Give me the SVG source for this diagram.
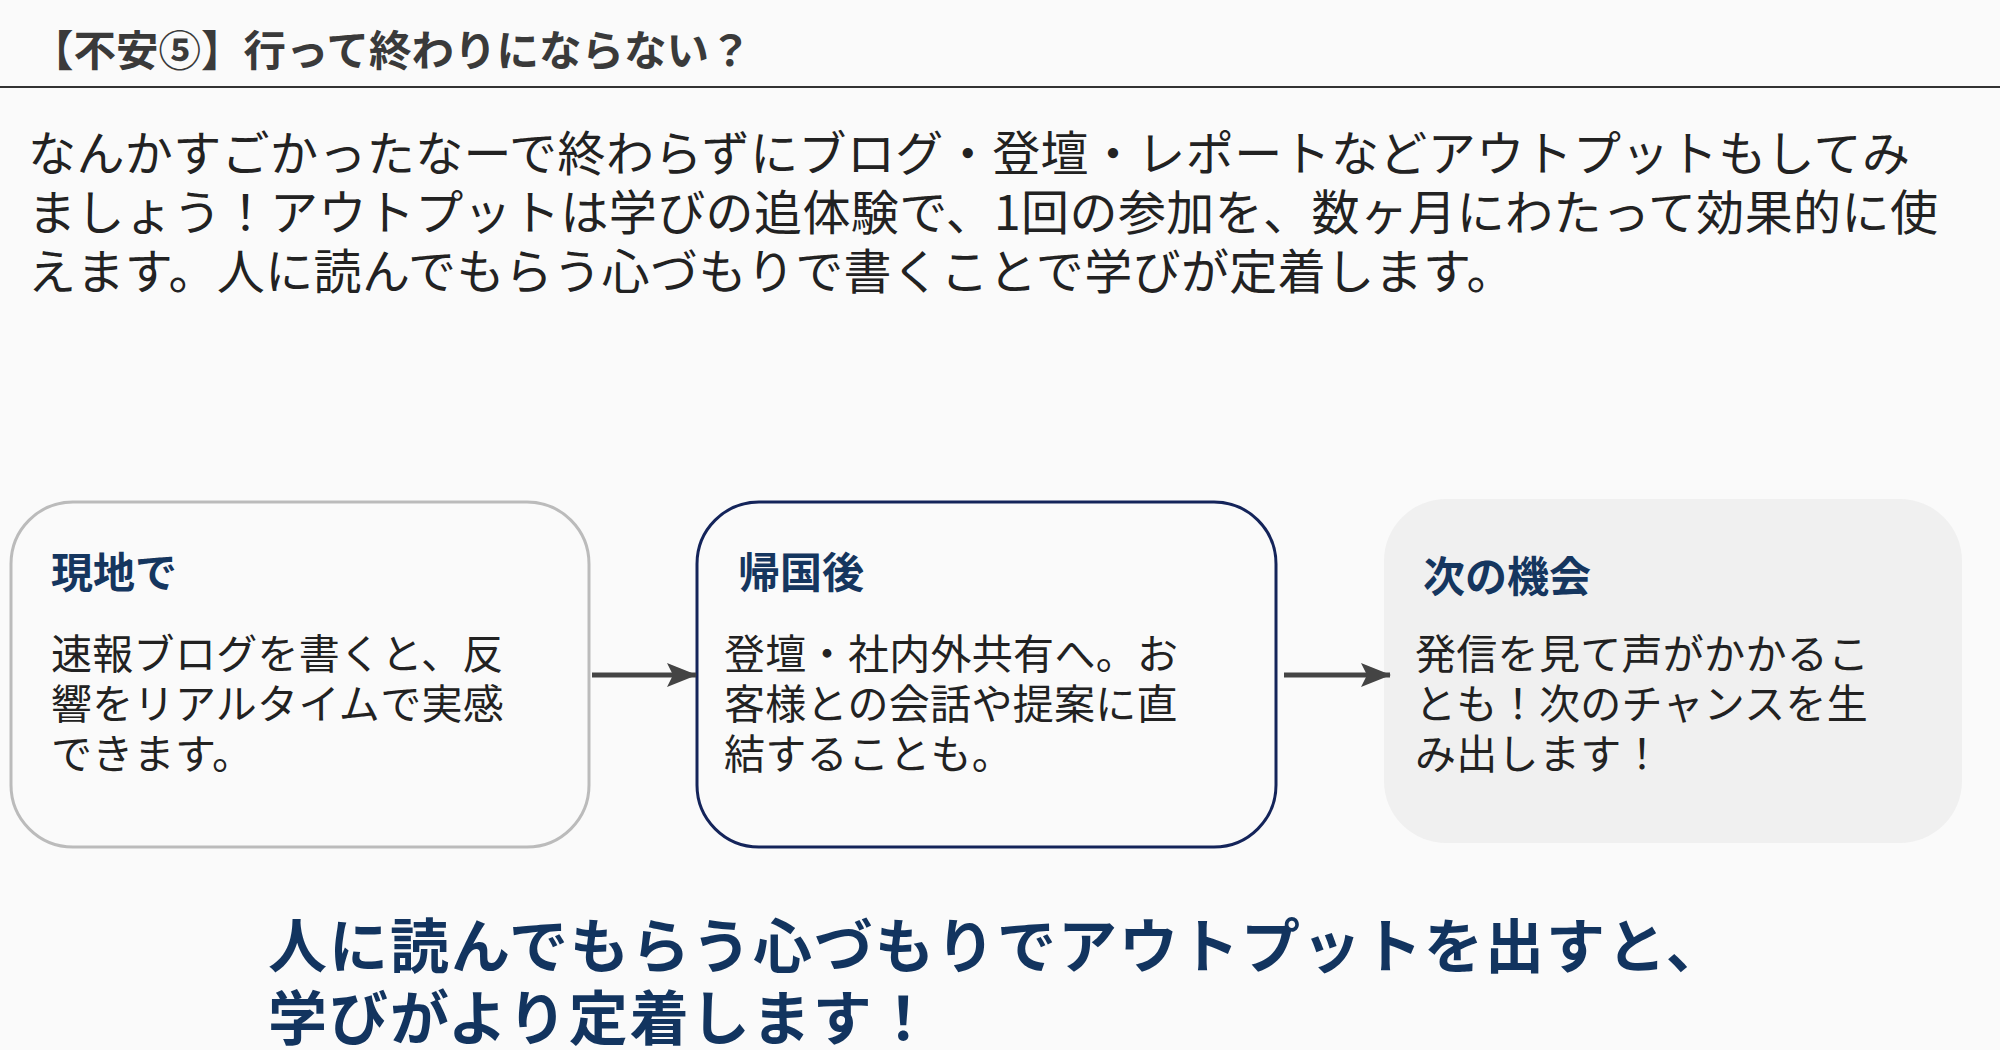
<svg xmlns="http://www.w3.org/2000/svg" width="2000" height="1050" viewBox="0 0 2000 1050">
<defs>
<style>
text{font-family:"Noto Sans CJK JP","Noto Sans",sans-serif;}
.title{font-size:42.5px;font-weight:700;fill:#3a3a3a;}
.lead{font-size:48px;fill:#222;letter-spacing:0.4px;}
.head{font-size:42px;font-weight:700;fill:#15365f;}
.body{font-size:41px;fill:#222;letter-spacing:0.3px;}
.concl{font-size:59px;font-weight:700;fill:#12345f;letter-spacing:2px;}
.conn{stroke:#444;stroke-width:5;fill:none;marker-end:url(#arr);}
</style>
<marker id="arr" viewBox="0 0 30 24" refX="29" refY="12" markerWidth="30" markerHeight="24" markerUnits="userSpaceOnUse" orient="auto">
<path d="M0,0 L30,12 L0,24 L6,12 z" fill="#444"/>
</marker>
</defs>
<rect width="2000" height="1050" fill="#fafafa"/>
<g id="header">
<text class="title" x="31" y="66">【不安⑤】行って終わりにならない？</text>
<line x1="0" y1="87" x2="2000" y2="87" stroke="#333" stroke-width="2"/>
</g>
<g id="lead">
<text class="lead" x="28" y="171">なんかすごかったなーで終わらずにブログ・登壇・レポートなどアウトプットもしてみ</text>
<text class="lead" x="28" y="230">ましょう！アウトプットは学びの追体験で、1回の参加を、数ヶ月にわたって効果的に使</text>
<text class="lead" x="28" y="289">えます。人に読んでもらう心づもりで書くことで学びが定着します。</text>
</g>
<g id="node-genchi">
<rect x="11" y="502" width="578" height="345" rx="62" fill="#fafafa" stroke="#bbb" stroke-width="3"/>
<text class="head" x="51" y="588">現地で</text>
<text class="body" x="51" y="669">速報ブログを書くと、反</text>
<text class="body" x="51" y="719">響をリアルタイムで実感</text>
<text class="body" x="51" y="769">できます。</text>
</g>
<g id="node-kikokugo">
<rect x="697" y="502" width="579" height="345" rx="62" fill="#fafafa" stroke="#14245a" stroke-width="3"/>
<text class="head" x="738" y="588">帰国後</text>
<text class="body" x="724" y="669">登壇・社内外共有へ。お</text>
<text class="body" x="724" y="719">客様との会話や提案に直</text>
<text class="body" x="724" y="769">結することも。</text>
</g>
<g id="node-tsugi">
<rect x="1384" y="499" width="578" height="344" rx="62" fill="#f0f0f0"/>
<text class="head" x="1423" y="592">次の機会</text>
<text class="body" x="1415" y="669">発信を見て声がかかるこ</text>
<text class="body" x="1415" y="719">とも！次のチャンスを生</text>
<text class="body" x="1415" y="769">み出します！</text>
</g>
<g id="connectors">
<line class="conn" x1="592" y1="675" x2="696" y2="675"/>
<line class="conn" x1="1284" y1="675" x2="1390" y2="675"/>
</g>
<g id="conclusion">
<text class="concl" x="268" y="968">人に読んでもらう心づもりでアウトプットを出すと、</text>
<text class="concl" x="268" y="1040">学びがより定着します！</text>
</g>
</svg>
